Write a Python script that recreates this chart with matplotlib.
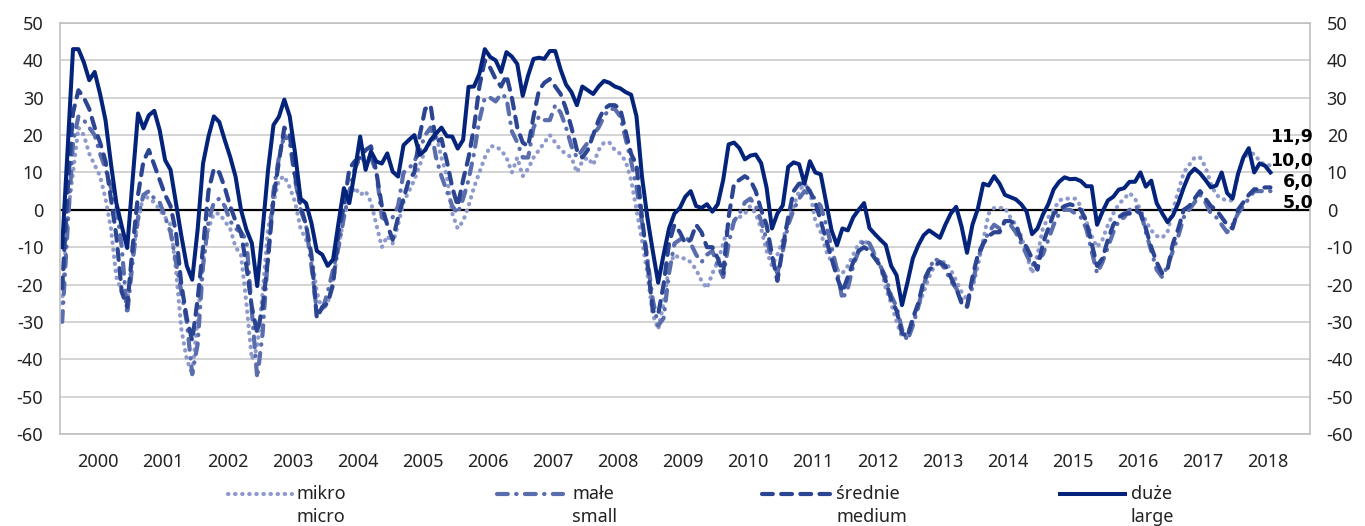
import matplotlib
matplotlib.use("Agg")
import matplotlib.pyplot as plt
import matplotlib.transforms as mtransforms
from matplotlib.lines import Line2D
import numpy as np

plt.rcParams['font.family'] = ['Noto Sans', 'DejaVu Sans']
plt.rcParams['axes.unicode_minus'] = False

# monthly values, Dec 1999 .. Jul 2018 (one row per year)
duze = [
    -10,
    16, 43, 43, 39.5, 34.7, 36.9, 31, 24, 12.4, 1.8, -4.4, -10.2,
    8, 25.8, 21.8, 25.3, 26.5, 21.3, 13.3, 10.7, 1.8, -7, -15, -18.7,
    -5.3, 12.4, 19.6, 25, 23.5, 18.7, 14.2, 8.9, 0, -5.3, -8.9, -20.4,
    -5.3, 10.7, 22.7, 24.9, 29.5, 25, 15, 3, 1.8, -3.5, -11, -12,
    -15, -13.3, -3.5, 5.8, 1.8, 10.2, 19.6, 10.7, 15.6, 12.9, 12.4, 15.1,
    10.2, 8.9, 17.3, 18.7, 20, 14.7, 16, 18.7, 20.4, 22, 19.7, 19.6,
    16.4, 18.7, 32.9, 33, 36.4, 43, 40.9, 40, 36.9, 42.2, 41, 39,
    30.5, 36, 40.4, 40.7, 40.4, 42.5, 42.5, 37.5, 33.5, 31.5, 28, 33,
    32, 31, 33, 34.5, 34, 33, 32.5, 31.5, 30.8, 25, 9, -2,
    -11, -19.5, -12, -5, -1, 0.5, 3.5, 5, 1, 0.5, 1.5, -0.5,
    1.5, 8, 17.5, 18, 16.5, 13.5, 14.5, 14.8, 12.5, 6, -5, -1,
    1.2, 11.5, 12.7, 12.2, 7, 13, 10, 9.5, 2, -5.5, -9.5, -5,
    -5.5, -2, 0, 1.8, -4.9, -6.5, -8, -9.4, -15, -17.5, -25.5, -19.5,
    -13, -9.5, -6.8, -5.5, -6.5, -7.5, -4, -1, 0.8, -4.5, -11.5, -4,
    0.3, 7, 6.5, 9, 7, 4, 3.4, 2.8, 1.5, -0.5, -6.5, -5,
    -1.3, 1.5, 5.5, 7.5, 8.7, 8.2, 8.3, 7.7, 6.3, 6.3, -4, -0.5,
    2.5, 3.5, 5.4, 5.8, 7.5, 7.5, 10, 6.2, 7.8, 1.8, -0.9, -3.3,
    -1.5, 1.8, 6, 9.5, 11, 9.8, 8, 6, 6.5, 10, 4.5, 3,
    9.5, 14, 16.5, 10, 12.4, 11.8, 10.0,
]

srednie = [
    -21,
    5, 26, 32, 30, 27, 22, 18, 13, 3, -7, -22, -26,
    -10, 4, 13, 16, 12, 8, 4, 1, -6, -20, -29, -35,
    -24, -10, 5, 11, 10, 6, 1, -3, -6, -15, -26, -33,
    -26, -13, 3, 13, 22, 20, 9, 1, -4, -12, -29, -26,
    -25, -20, -6, 1, 11, 13, 14, 16, 17, 10, 1, -4,
    -8, -2, 3, 8, 10, 20, 27, 28, 18, 19, 13, 6,
    1, 8, 14, 22, 33, 40, 38, 35, 33, 36, 30, 22,
    18, 17, 25, 32, 34, 35, 33, 31, 27, 22, 16, 14,
    16, 20, 24, 27, 28, 28, 27, 21, 15, 12, -2, -14,
    -27, -28, -20, -9, -4, -6, -9, -8, -4, -6, -10, -10,
    -13, -17, -2, 7, 8, 9, 8, 5, 0, -4, -12, -19,
    -10, -2, 5, 7, 7, 5, 2, -3, -8, -13, -18, -22,
    -18, -14, -11, -10, -11, -13, -15, -19, -24, -27, -33, -34,
    -29, -25, -19, -16, -15, -14, -15, -18, -21, -25, -26, -18,
    -12, -9, -7, -6, -6, -3, -3, -4, -8, -10, -13, -16,
    -9, -5, -1, 0, 1, 1.5, 1, 0, -3, -9, -15, -13,
    -8, -4, -2, -1, -1, 0, -1, -5, -10, -14, -17, -16,
    -9, -5, 0, 1, 3, 5, 3, 1, 0, -2, -4, -5,
    0, 2, 4, 5.5, 5.5, 6, 6.0,
]

male = [
    -30,
    -5, 18, 25, 24, 22, 20, 15, 11, 6, 1, -10, -28,
    -14, -2, 4, 5, 3, 2, -2, -6, -14, -22, -30, -44,
    -36, -15, -3, 2, 3, 1, -3, -5, -6, -8, -27, -45,
    -33, -12, 5, 14, 20, 18, 8, 0, -4, -15, -27, -27,
    -22, -16, -10, -2, 5, 11, 14, 13, 14, 10, -2, -3,
    -2, 1, 10, 11, 13, 16, 20, 22, 14, 9, 5, 1,
    -1, 3, 8, 15, 24, 30, 30, 29, 31, 30, 21, 18,
    14, 14, 22, 25, 24, 24, 28, 26, 22, 17, 14, 16,
    18, 20, 22, 25, 27, 27, 25, 19, 13, 6, -3, -13,
    -24, -31, -29, -17, -9, -8, -7, -9, -12, -14, -12, -11,
    -15, -18, -9, -3, -1, 2, 3, 1, -3, -8, -13, -17,
    -11, -4, 0, 3, 5, 4, 3, 1, -4, -10, -16, -24,
    -21, -15, -11, -8, -9, -12, -15, -18, -23, -26, -32, -35,
    -31, -26, -20, -16, -13, -14, -16, -19, -21, -24, -26, -20,
    -13, -9, -6, -4, -5, -3, -4, -6, -9, -12, -15, -13,
    -12, -8, -4, -1, 0, 0, -1, -2, -5, -11, -17, -14,
    -10, -6, -3, -2, 0, 1, 0, -6, -11, -16, -18, -15,
    -11, -7, -2, 0, 2, 4, 2, -1, -2, -4, -6, -4,
    -1, 1, 3, 5, 5, 5, 5.0,
]

mikro = [
    -25,
    -2, 10, 22, 20, 15, 12, 9, 3, -5, -18, -22, -25,
    -12, -3, 4, 3, 2, 0, -2, -4, -16, -32, -40, -44,
    -29, -14, -5, -1, -1, -3, -5, -10, -12, -25, -40, -37,
    -22, -5, 2, 8, 9, 6, 2, -5, -8, -12, -22, -27,
    -25, -19, -10, -2, 3, 6, 4, 5, 2, -4, -10, -7,
    -9, -4, 2, 5, 8, 12, 16, 18, 20, 14, 9, -1,
    -5, -3, 1, 6, 10, 14, 17, 17, 16, 14, 10, 14,
    9, 11, 14, 16, 18, 20, 18, 16, 15, 14, 10, 13,
    14, 12, 16, 18, 18, 16, 15, 13, 8, 0, -8, -17,
    -28, -32, -25, -15, -12, -13, -13, -14, -16, -19, -21, -17,
    -14, -9, -4, -3, -2, -1, 1, -1, -5, -11, -15, -12,
    -8, -3, 1, 5, 7, 5, -3, -6, -11, -14, -16, -17,
    -15, -12, -9, -8, -10, -12, -15, -21, -25, -30, -34, -33,
    -30, -26, -22, -18, -15, -14, -14, -16, -19, -22, -24, -21,
    -15, -8, -1, 0.5, 0.5, 0.5, -2, -4, -7, -12, -17, -12,
    -5, -2, 0, 2.5, 3, 3, 3, 1, -3, -7, -10, -8,
    -4, -1, 1.5, 3, 4.5, 3, 0, -3, -5.5, -7, -7.5, -6,
    0, 5, 10, 12, 14, 14, 11.5, 7, 4, 3, 2.5, 2.5,
    9.5, 14, 15, 15, 13, 12, 11.9,
]

years = list(range(2000, 2019))
labels_pl = ['mikro', 'małe', 'średnie', 'duże']
labels_en = ['micro', 'small', 'medium', 'large']

W, H = 1365, 526
fig = plt.figure(figsize=(W / 100, H / 100), dpi=100)
ax = fig.add_axes([60 / W, 1 - 434 / H, 1250 / W, 411 / H])

styles = [
    dict(color='#8d9acb', lw=3.0, linestyle=(0, (0.1, 1.6)), dash_capstyle='round'),
    dict(color='#5a6dad', lw=3.0, linestyle=(0, (2.6, 2.0, 0.1, 2.0)), dash_capstyle='round'),
    dict(color='#2c4592', lw=3.0, linestyle=(0, (2.6, 2.0)), dash_capstyle='round'),
    dict(color='#04237a', lw=2.9, linestyle='-', solid_joinstyle='round'),
]
series = [mikro, male, srednie, duze]

x = np.arange(len(duze))
for vals, st in zip(series, styles):
    ax.plot(x, vals, **st)

ax.axhline(0, color='black', lw=1.6, zorder=1.5)

ax.set_ylim(-60, 50)
ax.set_yticks(range(-60, 51, 10))
ax.set_xlim(-0.4, 230.3)
ax.set_xticks([6.5 + 12 * i for i in range(len(years))])
ax.set_xticklabels([str(y) for y in years])
ax.grid(axis='y', color='#c8c8c8', lw=1.1)
ax.set_axisbelow(True)
ax.tick_params(axis='x', length=0, pad=14, labelsize=13, labelcolor='#222222')
ax.tick_params(axis='y', length=0, labelsize=13, labelcolor='#222222',
               left=False, right=False, labelleft=True, labelright=True, pad=12)
for s in ax.spines.values():
    s.set_color('#c0c0c0')
    s.set_linewidth(1.2)

# end-of-series value labels
trans = mtransforms.blended_transform_factory(ax.transAxes, ax.transData)
label_y = [19.5, 13.1, 7.5, 1.9]
for vals, yy in zip([mikro, duze, srednie, male], label_y):
    ax.text(1.0025, yy, f"{vals[-1]:.1f}".replace('.', ','), transform=trans,
            ha='right', va='center', fontsize=12.5, fontweight='bold',
            family=['DejaVu Sans'], color='black', clip_on=False)

# legend drawn in figure coordinates
leg_pos = [(228, 292, 296), (497, 563, 572), (762, 830, 836), (1060, 1125, 1131)]
y1, y2 = 1 - 494 / H, 1 - 517 / H
for (x0, x1, tx), st, pl, en in zip(leg_pos, styles, labels_pl, labels_en):
    fig.add_artist(Line2D([x0 / W, x1 / W], [y1, y1], transform=fig.transFigure, **st))
    fig.text(tx / W, y1, pl, va='center', ha='left', fontsize=13, color='#222222')
    fig.text(tx / W, y2, en, va='center', ha='left', fontsize=13, color='#222222')

fig.savefig('out.png', dpi=100)
